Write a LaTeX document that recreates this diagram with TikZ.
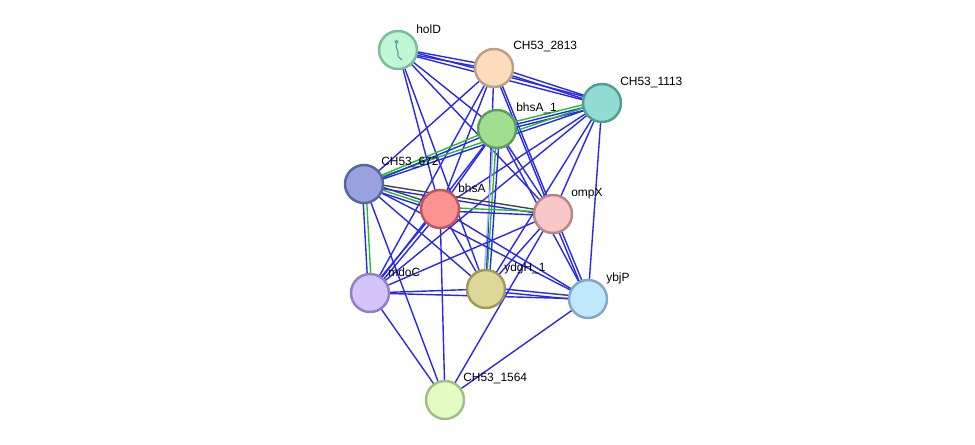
\documentclass[tikz,border=0pt]{standalone}
\usepackage{fontspec}
\setmainfont{Liberation Sans}
\usepackage{tikz}
\usetikzlibrary{calc, backgrounds}
\definecolor{cEdgeBlue}{RGB}{40,40,240}
\definecolor{cEdgeGreen}{RGB}{40,190,40}
\definecolor{cEdgeBlack}{RGB}{70,70,70}
\definecolor{cEdgeLilac}{RGB}{175,175,245}
\definecolor{cFillHol}{RGB}{190,246,214}
\definecolor{cLineHol}{RGB}{124,190,154}
\definecolor{cFillTwo}{RGB}{253,220,190}
\definecolor{cLineTwo}{RGB}{190,160,128}
\definecolor{cFillOne}{RGB}{146,220,212}
\definecolor{cLineOne}{RGB}{82,158,150}
\definecolor{cFillBhsa}{RGB}{160,222,144}
\definecolor{cLineBhsa}{RGB}{98,156,90}
\definecolor{cFillSix}{RGB}{152,162,222}
\definecolor{cLineSix}{RGB}{88,102,160}
\definecolor{cFillRed}{RGB}{252,146,146}
\definecolor{cLineRed}{RGB}{190,88,88}
\definecolor{cFillOmp}{RGB}{248,200,200}
\definecolor{cLineOmp}{RGB}{184,134,134}
\definecolor{cFillMdo}{RGB}{212,196,252}
\definecolor{cLineMdo}{RGB}{146,128,192}
\definecolor{cFillYdg}{RGB}{222,216,152}
\definecolor{cLineYdg}{RGB}{160,154,88}
\definecolor{cFillYbj}{RGB}{192,232,252}
\definecolor{cLineYbj}{RGB}{128,168,200}
\definecolor{cFillLow}{RGB}{226,252,194}
\definecolor{cLineLow}{RGB}{162,190,136}
\tikzset{
  prot/.style={circle, draw, minimum size=0.76cm, inner sep=0pt, line width=1.4pt},
  protH/.style={prot, draw=cLineHol,  fill=cFillHol},
  protT/.style={prot, draw=cLineTwo,  fill=cFillTwo},
  protO/.style={prot, draw=cLineOne,  fill=cFillOne},
  protA/.style={prot, draw=cLineBhsa, fill=cFillBhsa},
  protS/.style={prot, draw=cLineSix,  fill=cFillSix},
  protR/.style={prot, draw=cLineRed,  fill=cFillRed},
  protX/.style={prot, draw=cLineOmp,  fill=cFillOmp},
  protM/.style={prot, draw=cLineMdo,  fill=cFillMdo},
  protY/.style={prot, draw=cLineYdg,  fill=cFillYdg},
  protJ/.style={prot, draw=cLineYbj,  fill=cFillYbj},
  protL/.style={prot, draw=cLineLow,  fill=cFillLow},
  lbl/.style={anchor=west, inner sep=0pt, font=\fontsize{6.8}{8}\selectfont},
  eB/.style={cEdgeBlue, line width=0.8pt},
  eG/.style={cEdgeGreen, line width=0.8pt},
  eK/.style={cEdgeBlack, line width=0.8pt},
  eL/.style={cEdgeLilac, line width=0.8pt},
}
% one evidence line between two proteins, shifted sideways by #1
\newcommand{\lnk}[4][0pt]{\draw[#2] ($(#3)!#1!90:(#4)$) -- ($(#4)!#1!-90:(#3)$);}

\begin{document}
\begin{tikzpicture}[x=0.02cm, y=-0.02cm]
\useasboundingbox (0,0) rectangle (975,445);

%% ============================================================
%%  PROTEINS
%% ============================================================
\node[protH] (holD)  at (398, 50)  {};
\node[protT] (c2813) at (494, 68)  {};
\node[protO] (c1113) at (602, 103) {};
\node[protA] (bhsA1) at (497, 129) {};
\node[protS] (c672)  at (364, 184) {};
\node[protR] (bhsA)  at (440, 209) {};
\node[protX] (ompX)  at (553, 214) {};
\node[protM] (mdoC)  at (370, 293) {};
\node[protY] (ydgH1) at (486, 289) {};
\node[protJ] (ybjP)  at (588, 299) {};
\node[protL] (c1564) at (445, 400) {};

%% small structure glyph in holD
\draw[cLineOne, line width=0.6pt]
  (396.5, 42) circle (1.5)
  (396.5, 44) .. controls (395, 49) and (399, 50) .. (398, 55)
  .. controls (397.5, 58) and (401, 57) .. (402, 60);

%% ----- Labels -----
\node[lbl] (holD-t)  at ($(holD)+(18,-21)$)  {holD};
\node[lbl] (c2813-t) at ($(c2813)+(19,-21)$) {CH53\_2813};
\node[lbl] (c1113-t) at ($(c1113)+(18,-20)$) {CH53\_1113};
\node[lbl] (bhsA1-t) at ($(bhsA1)+(19,-21)$) {bhsA\_1};
\node[lbl] (c672-t)  at ($(c672)+(17,-21)$)  {CH53\_672};
\node[lbl] (bhsA-t)  at ($(bhsA)+(18,-21)$)  {bhsA};
\node[lbl] (ompX-t)  at ($(ompX)+(18,-20)$)  {ompX};
\node[lbl] (mdoC-t)  at ($(mdoC)+(18,-21)$)  {mdoC};
\node[lbl] (ydgH1-t) at ($(ydgH1)+(18,-21)$) {ydgH\_1};
\node[lbl] (ybjP-t)  at ($(ybjP)+(18,-21)$)  {ybjP};
\node[lbl] (c1564-t) at ($(c1564)+(18,-21)$) {CH53\_1564};

%% ============================================================
%%  INTERACTIONS (behind the proteins)
%% ============================================================
\begin{scope}[on background layer]
% holD
\lnk[1pt]{eB}{holD}{c2813} \lnk[-1pt]{eB}{holD}{c2813}
\lnk[1pt]{eB}{holD}{c1113} \lnk[-1pt]{eB}{holD}{c1113}
\lnk{eB}{holD}{bhsA1}
\lnk{eB}{holD}{ompX}
\lnk{eB}{holD}{bhsA}
\lnk{eB}{holD}{ydgH1}
% CH53_2813
\lnk[1pt]{eB}{c2813}{c1113} \lnk[-1pt]{eB}{c2813}{c1113}
\lnk{eB}{c2813}{c672}
\lnk{eB}{c2813}{bhsA}
\lnk{eB}{c2813}{mdoC}
\lnk[0.6pt]{eB}{c2813}{ompX} \lnk[-0.6pt]{eB}{c2813}{ompX}
\lnk{eB}{c2813}{ydgH1}
% CH53_1113
\lnk[1.6pt]{eB}{c1113}{bhsA1} \lnk{eB}{c1113}{bhsA1} \lnk[-1.6pt]{eG}{c1113}{bhsA1}
\lnk[0.8pt]{eB}{c1113}{c672} \lnk[-0.8pt]{eG}{c1113}{c672}
\lnk{eB}{c1113}{bhsA}
\lnk{eB}{c1113}{ompX}
\lnk{eB}{c1113}{ydgH1}
\lnk{eB}{c1113}{ybjP}
\lnk{eB}{c1113}{mdoC}
% bhsA_1
\lnk[0.8pt]{eB}{bhsA1}{c672} \lnk[-0.8pt]{eG}{bhsA1}{c672}
\lnk{eB}{bhsA1}{bhsA}
\lnk[1.6pt]{eB}{bhsA1}{ydgH1} \lnk{eG}{bhsA1}{ydgH1} \lnk[-1.6pt]{eL}{bhsA1}{ydgH1}
\lnk{eB}{bhsA1}{ompX}
\lnk{eB}{bhsA1}{mdoC}
\lnk{eB}{bhsA1}{ybjP}
% CH53_672
\lnk[1.6pt]{eK}{c672}{bhsA} \lnk{eG}{c672}{bhsA} \lnk[-1.6pt]{eB}{c672}{bhsA}
\lnk[1pt]{eK}{c672}{ompX} \lnk[-1pt]{eB}{c672}{ompX}
\lnk[1pt]{eG}{c672}{mdoC} \lnk[-1pt]{eB}{c672}{mdoC}
\lnk{eB}{c672}{ydgH1}
\lnk{eB}{c672}{ybjP}
\lnk{eB}{c672}{c1564}
% bhsA
\lnk[1pt]{eG}{bhsA}{ompX} \lnk[-1pt]{eB}{bhsA}{ompX}
\lnk[1pt]{eB}{bhsA}{mdoC} \lnk[-1pt]{eB}{bhsA}{mdoC}
\lnk{eB}{bhsA}{ydgH1}
\lnk{eB}{bhsA}{ybjP}
\lnk{eB}{bhsA}{c1564}
% ompX
\lnk{eB}{ompX}{mdoC}
\lnk{eB}{ompX}{ydgH1}
\lnk[0.8pt]{eB}{ompX}{ybjP} \lnk[-0.8pt]{eB}{ompX}{ybjP}
\lnk{eB}{ompX}{c1564}
% lower ring
\lnk{eB}{mdoC}{ydgH1}
\lnk{eB}{mdoC}{ybjP}
\lnk{eB}{mdoC}{c1564}
\lnk[1pt]{eB}{ydgH1}{ybjP} \lnk[-1pt]{eB}{ydgH1}{ybjP}
\lnk{eB}{ybjP}{c1564}
\end{scope}

\end{tikzpicture}
\end{document}
